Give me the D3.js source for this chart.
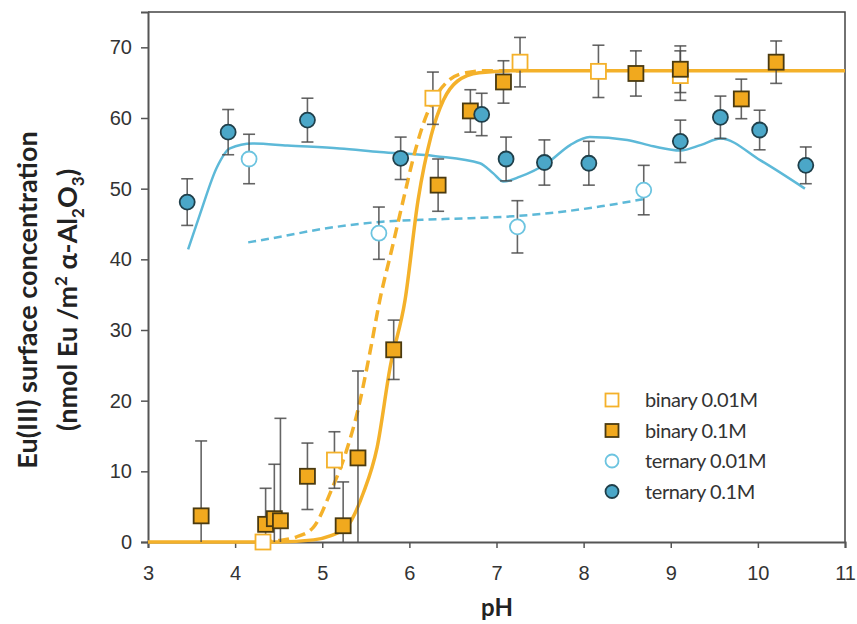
<!DOCTYPE html>
<html>
<head>
<meta charset="utf-8">
<script src="https://cdn.jsdelivr.net/npm/d3@7"></script>
<style>
  body { margin: 0; background: #fff; }
  svg { display: block; font-family: Lato, "Open Sans", sans-serif; }
</style>
</head>
<body>
<div id="chart"></div>
<script>
// measured points, pH vs surface concentration (nmol Eu / m2)
var binary001 = [[4.32, 0, 0.5], [5.14, 11.6, 4.0], [6.27, 62.8, 3.7], [7.27, 67.9, 3.5], [8.17, 66.6, 3.7], [9.11, 66.0, 3.5]];
var binary01 = [[3.61, 3.7, 10.6], [4.35, 2.5, 5.1], [4.45, 3.3, 7.7], [4.52, 3.0, 14.5], [4.83, 9.3, 4.7],
  [5.24, 2.3, 6.2], [5.41, 11.9, 12.3], [5.82, 27.2, 4.2], [6.33, 50.5, 3.7], [6.70, 61.0, 3.0],
  [7.08, 65.1, 3.0], [8.60, 66.3, 3.2], [9.11, 66.9, 3.3], [9.81, 62.7, 2.8], [10.21, 67.9, 3.0]];
var ternary001 = [[4.16, 54.2, 3.5], [5.65, 43.7, 3.7], [7.24, 44.6, 3.7], [8.69, 49.8, 3.5]];
var ternary01 = [[3.45, 48.1, 3.3], [3.92, 58.0, 3.2], [4.83, 59.7, 3.1], [5.90, 54.3, 3.0], [6.83, 60.5, 3.0],
  [7.11, 54.2, 3.1], [7.55, 53.7, 3.2], [8.06, 53.6, 3.1], [9.11, 56.7, 3.0], [9.57, 60.1, 3.0],
  [10.02, 58.3, 2.8], [10.55, 53.3, 2.6]];

// model curves
var fitBinary01 = [[3, 0], [4.5, 0], [4.9, 0.3], [5.1, 0.9], [5.28, 2.1], [5.47, 6.9], [5.63, 13.4], [5.78, 24.8],
  [5.95, 34.2], [6.1, 48.4], [6.25, 57.5], [6.39, 62.5], [6.55, 65.2], [6.8, 66.4], [7.2, 66.7], [11, 66.7]];
var fitBinary001 = [[4.3, 0], [4.5, 0.2], [4.7, 0.7], [4.9, 2.1], [5.1, 7.2], [5.28, 13], [5.41, 18.7], [5.55, 27],
  [5.66, 34.2], [5.8, 41.5], [5.93, 48.4], [6.07, 55.5], [6.2, 60.5], [6.3, 63], [6.45, 65.3], [6.65, 66.4],
  [6.9, 66.7], [7.3, 66.7]];
var fitTernary01 = [[3.46, 41.4], [3.6, 46.5], [3.79, 53], [3.94, 55.7], [4.2, 56.4], [4.6, 56.1], [5.2, 55.7],
  [5.66, 55.2], [6.3, 54.6], [6.81, 53.6], [6.96, 52.2], [7.08, 51], [7.27, 51.7], [7.58, 53.6], [7.85, 56.2],
  [8.07, 57.3], [8.5, 56.9], [8.8, 56], [9.11, 55.4], [9.35, 56.2], [9.57, 57.1], [10.03, 54], [10.54, 50]];
var fitTernary001 = [[4.15, 42.4], [4.52, 43.2], [5.0, 44.3], [5.66, 45.3], [6.4, 45.7], [7.19, 46.1], [7.73, 46.7],
  [8.2, 47.5], [8.68, 48.5]];

var xTicks = [3, 4, 5, 6, 7, 8, 9, 10, 11];
var yTicks = [0, 10, 20, 30, 40, 50, 60, 70];
var legendNames = ["binary 0.01M", "binary 0.1M", "ternary 0.01M", "ternary 0.1M"];

var width = 857, height = 624;
var orange = "#F4B12A", orangeFill = "#F1A91E", blue = "#5DB9D8", blueFill = "#4BA7C8";

var svg = d3.select("#chart").append("svg")
  .attr("width", width)
  .attr("height", height);

var x = d3.scaleLinear().domain([3, 11]).range([148, 845]);
var y = d3.scaleLinear().domain([0, 75]).range([542, 12]);

// frame (top + right)
svg.append("path")
  .attr("d", "M" + x(3) + "," + y(75) + "H" + x(11) + "V" + y(0))
  .attr("fill", "none").attr("stroke", "#444").attr("stroke-width", 1.5);

var xAxis = svg.append("g")
  .attr("transform", "translate(0," + y(0) + ")")
  .call(d3.axisBottom(x).tickValues(xTicks).tickSize(6).tickPadding(18).tickFormat(d3.format("d")));
var yAxis = svg.append("g")
  .attr("transform", "translate(" + x(3) + ",0)")
  .call(d3.axisLeft(y).tickValues(yTicks).tickSize(7).tickPadding(9).tickFormat(d3.format("d")));

[xAxis, yAxis].forEach(function(a) {
  a.select(".domain").attr("stroke", "#555").attr("stroke-width", 2);
  a.selectAll(".tick line").attr("stroke", "#555").attr("stroke-width", 1.5);
  a.selectAll(".tick text").attr("fill", "#333").style("font-size", "20px");
});

svg.append("text")
  .attr("x", 497).attr("y", 616)
  .attr("text-anchor", "middle")
  .style("font-size", "24px").style("font-weight", "bold").attr("fill", "#222")
  .text("pH");

var ylab = svg.append("text")
  .attr("transform", "translate(0,300) rotate(-90)")
  .attr("text-anchor", "middle")
  .style("font-size", "27px").style("font-weight", "bold").attr("fill", "#222");
ylab.append("tspan").attr("x", 0).attr("y", 37).text("Eu(III) surface concentration");
var l2 = ylab.append("tspan").attr("x", 0).attr("y", 77);
l2.append("tspan").text("(nmol Eu /m");
l2.append("tspan").attr("dy", -10).style("font-size", "17px").text("2");
l2.append("tspan").attr("dy", 10).text(" α-Al");
l2.append("tspan").attr("dy", 7).style("font-size", "17px").text("2");
l2.append("tspan").attr("dy", -7).text("O");
l2.append("tspan").attr("dy", 7).style("font-size", "17px").text("3");
l2.append("tspan").attr("dy", -7).text(")");

// fitted curves
var line = d3.line()
  .x(function(d) { return x(d[0]); })
  .y(function(d) { return y(d[1]); })
  .curve(d3.curveMonotoneX);

svg.append("path").datum(fitTernary001).attr("d", line)
  .attr("fill", "none").attr("stroke", blue).attr("stroke-width", 2.5).attr("stroke-dasharray", "8,5");
svg.append("path").datum(fitTernary01).attr("d", line)
  .attr("fill", "none").attr("stroke", blue).attr("stroke-width", 2.5);
svg.append("path").datum(fitBinary001).attr("d", line)
  .attr("fill", "none").attr("stroke", orange).attr("stroke-width", 3.5).attr("stroke-dasharray", "11,6");
svg.append("path").datum(fitBinary01).attr("d", line)
  .attr("fill", "none").attr("stroke", orange).attr("stroke-width", 3.5);

// error bars for a series
function errorBars(data) {
  var g = svg.append("g").attr("stroke", "#4a4a4a").attr("stroke-width", 1.6).attr("stroke-opacity", 0.85);
  data.forEach(function(d) {
    var top = y(d[1] + d[2]), bot = y(Math.max(0, d[1] - d[2])), cx = x(d[0]);
    g.append("line").attr("x1", cx).attr("x2", cx).attr("y1", top).attr("y2", bot);
    g.append("line").attr("x1", cx - 6).attr("x2", cx + 6).attr("y1", top).attr("y2", top);
    if (d[1] - d[2] > 0) g.append("line").attr("x1", cx - 6).attr("x2", cx + 6).attr("y1", bot).attr("y2", bot);
  });
}

function squares(data, fill, stroke) {
  svg.append("g").selectAll("rect").data(data).enter().append("rect")
    .attr("x", function(d) { return x(d[0]) - 7.5; })
    .attr("y", function(d) { return y(d[1]) - 7.5; })
    .attr("width", 15).attr("height", 15)
    .attr("fill", fill).attr("stroke", stroke).attr("stroke-width", 1.8);
}
function circles(data, fill, stroke) {
  svg.append("g").selectAll("circle").data(data).enter().append("circle")
    .attr("cx", function(d) { return x(d[0]); })
    .attr("cy", function(d) { return y(d[1]); })
    .attr("r", 7.5)
    .attr("fill", fill).attr("stroke", stroke).attr("stroke-width", 1.8);
}

errorBars(binary001); errorBars(binary01); errorBars(ternary001); errorBars(ternary01);
squares(binary001, "#fff", orange);
squares(binary01, orangeFill, "#4a3a10");
circles(ternary001, "#fff", "#6cc4e0");
circles(ternary01, blueFill, "#1f3f4a");

// legend
var lg = svg.append("g").attr("transform", "translate(612,400)");
legendNames.forEach(function(name, i) {
  var row = lg.append("g").attr("transform", "translate(0," + (i * 30.5) + ")");
  if (i == 0) row.append("rect").attr("x", -6.5).attr("y", -6.5).attr("width", 13).attr("height", 13).attr("fill", "#fff").attr("stroke", orange).attr("stroke-width", 1.8);
  if (i == 1) row.append("rect").attr("x", -6.5).attr("y", -6.5).attr("width", 13).attr("height", 13).attr("fill", orangeFill).attr("stroke", "#4a3a10").attr("stroke-width", 1.8);
  if (i == 2) row.append("circle").attr("r", 6.5).attr("fill", "#fff").attr("stroke", "#6cc4e0").attr("stroke-width", 1.8);
  if (i == 3) row.append("circle").attr("r", 6.5).attr("fill", blueFill).attr("stroke", "#1f3f4a").attr("stroke-width", 1.8);
  row.append("text").attr("x", 33).attr("y", 7).attr("fill", "#333")
    .style("font-size", "20px").style("letter-spacing", "-0.4px").text(name);
});
</script>
</body>
</html>
